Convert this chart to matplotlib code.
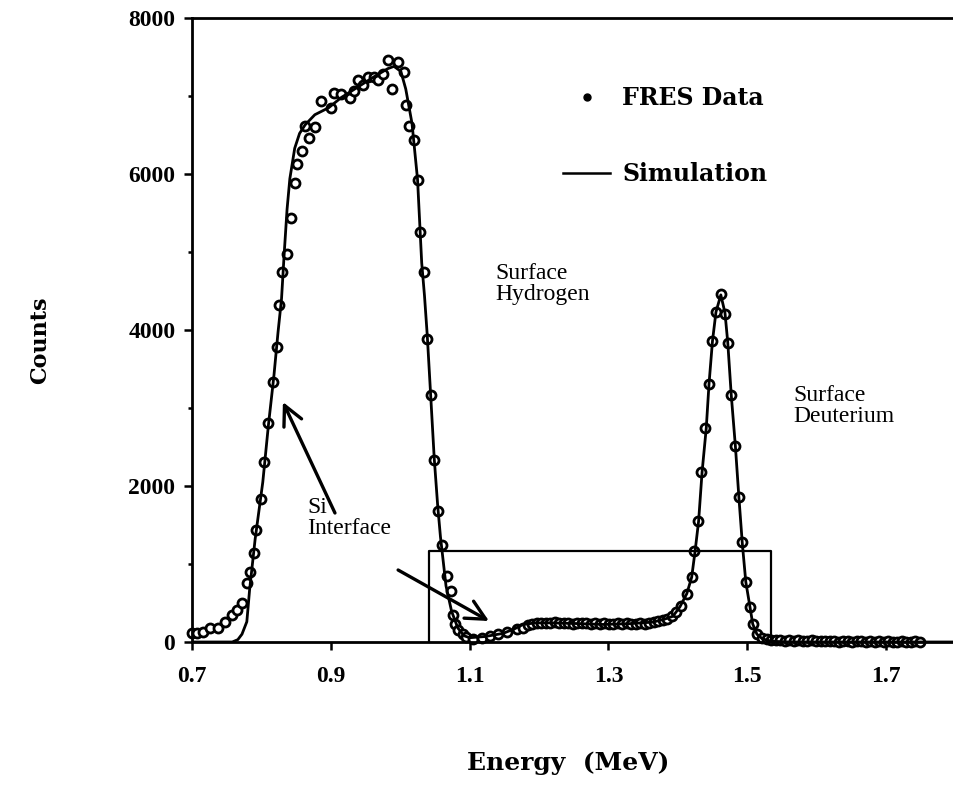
import matplotlib
matplotlib.use('Agg')
import matplotlib.pyplot as plt
from matplotlib.lines import Line2D

# FRES measured spectrum (energy in MeV, counts)
data_energy = [0.700, 0.707, 0.716, 0.726, 0.737, 0.748, 0.758, 0.765, 0.772, 0.779,
               0.783, 0.789, 0.792, 0.799, 0.804, 0.810, 0.816, 0.823, 0.826, 0.829,
               0.837, 0.843, 0.848, 0.852, 0.859, 0.863, 0.869, 0.877, 0.886, 0.901,
               0.905, 0.915, 0.927, 0.933, 0.939, 0.946, 0.954, 0.962, 0.968, 0.975,
               0.982, 0.988, 0.997, 1.005, 1.009, 1.012, 1.020, 1.025, 1.029, 1.034,
               1.039, 1.045, 1.049, 1.054, 1.060, 1.067, 1.073, 1.076, 1.079, 1.083,
               1.090, 1.095, 1.105, 1.118, 1.129, 1.141, 1.154, 1.168, 1.177,
               1.184, 1.190, 1.197, 1.203, 1.210, 1.216, 1.223, 1.229, 1.236, 1.242,
               1.249, 1.255, 1.262, 1.268, 1.275, 1.281, 1.288, 1.294, 1.301, 1.307,
               1.314, 1.320, 1.327, 1.333, 1.340, 1.346, 1.353, 1.359, 1.366, 1.372,
               1.379, 1.385, 1.392, 1.398,
               1.404, 1.413, 1.420, 1.424, 1.429, 1.434, 1.439, 1.445, 1.450, 1.455,
               1.462, 1.468, 1.472, 1.477, 1.483, 1.488, 1.493, 1.498, 1.504, 1.508,
               1.514, 1.521,
               1.528, 1.534, 1.541, 1.547, 1.554, 1.560, 1.567, 1.573, 1.580, 1.586,
               1.593, 1.599, 1.606, 1.612, 1.619, 1.625, 1.632, 1.638, 1.645, 1.651,
               1.658, 1.664, 1.671, 1.677, 1.684, 1.690, 1.697, 1.703, 1.710, 1.716,
               1.723, 1.729, 1.736, 1.742, 1.749]
data_counts = [115, 115, 130, 180, 180, 260, 350, 410, 500, 760,
               900, 1140, 1435, 1835, 2310, 2810, 3330, 3780, 4320, 4745,
               4975, 5440, 5890, 6130, 6300, 6620, 6460, 6600, 6940, 6850,
               7040, 7020, 6980, 7070, 7200, 7140, 7240, 7240, 7200, 7280,
               7460, 7090, 7430, 7310, 6890, 6620, 6440, 5920, 5260, 4740,
               3890, 3170, 2330, 1680, 1250, 850, 660, 350, 230, 155,
               100, 65, 40, 45, 75, 100, 130, 170, 185,
               215, 235, 240, 250, 245, 240, 255, 245, 240, 250,
               235, 245, 250, 240, 235, 245, 230, 240, 235, 225,
               240, 230, 245, 235, 230, 240, 235, 250, 260, 270,
               285, 300, 330, 380,
               460, 615, 833, 1170, 1551, 2179, 2743, 3307, 3859, 4231,
               4461, 4205, 3833, 3167, 2513, 1859, 1282, 769, 449, 231,
               103, 51,
               35, 25, 20, 25, 15, 20, 15, 20, 10, 15,
               20, 10, 15, 10, 15, 10, 5, 15, 10, 5,
               10, 15, 5, 10, 5, 10, 5, 10, 5, 5,
               10, 5, 5, 10, 5]

# simulated spectrum
sim_energy = [0.700, 0.758, 0.766, 0.772, 0.779, 0.783, 0.791, 0.802, 0.810, 0.818,
              0.824, 0.829, 0.833, 0.837, 0.841, 0.848, 0.855, 0.863, 0.877, 0.897,
              0.915, 0.939, 0.962, 0.982, 0.991, 1.001, 1.008, 1.017, 1.025, 1.031,
              1.035, 1.039, 1.044, 1.049, 1.054, 1.058, 1.066, 1.074, 1.083, 1.092,
              1.100, 1.122, 1.148, 1.165, 1.177, 1.195, 1.220, 1.260, 1.292, 1.330,
              1.364, 1.380, 1.393, 1.403, 1.413, 1.420, 1.425, 1.430, 1.435, 1.441,
              1.445, 1.450, 1.455, 1.462, 1.468, 1.472, 1.477, 1.483, 1.488, 1.493,
              1.498, 1.504, 1.508, 1.514, 1.522, 1.535, 1.560, 1.798]
sim_counts = [0, 0, 30, 100, 260, 670, 1320, 2050, 2770, 3410,
              3975, 4400, 5000, 5550, 5940, 6330, 6520, 6630, 6760, 6850,
              6980, 7115, 7245, 7350, 7380, 7315, 7090, 6650, 5930, 4860,
              4440, 3930, 3150, 2360, 1750, 1350, 720, 395, 180, 80,
              55, 70, 110, 170, 225, 245, 245, 235, 225, 235,
              255, 290, 330, 450, 620, 830, 1170, 1550, 2180, 2740,
              3310, 3860, 4230, 4450, 4220, 3840, 3170, 2510, 1860, 1260,
              770, 450, 230, 100, 40, 10, 0, 0]

# window drawn around the hydrogen / deuterium region
box_energy = [1.041, 1.534]
box_height = 1170

x_ticks = [0.7, 0.9, 1.1, 1.3, 1.5, 1.7]
x_labels = ['0.7', '0.9', '1.1', '1.3', '1.5', '1.7']
y_ticks = [0, 2000, 4000, 6000, 8000]

W, H = 954, 788
fig = plt.figure(figsize=(W / 100, H / 100), dpi=100)
ax = fig.add_axes([192 / W, 1 - 642 / H, 1 - 192 / W, (642 - 18) / H])

ax.plot(data_energy, data_counts, 'o', ms=6.5, mfc='white', mec='black', mew=2.0,
        clip_on=False, zorder=2)
ax.plot(sim_energy, sim_counts, color='black', lw=2.0, zorder=3)

ax.plot([box_energy[0], box_energy[0], box_energy[1], box_energy[1]],
        [0, box_height, box_height, 0], color='black', lw=1.6)

ax.set_xlim(0.7, 1.798)
ax.set_ylim(0, 8000)
ax.spines['right'].set_visible(False)
for s in ['left', 'bottom', 'top']:
    ax.spines[s].set_linewidth(2)

tick_font = {'family': 'Liberation Serif', 'weight': 'bold', 'size': 17}
ax.set_xticks(x_ticks)
ax.set_xticklabels(x_labels, fontdict=tick_font)
ax.set_yticks(y_ticks)
ax.set_yticklabels([str(v) for v in y_ticks], fontdict=tick_font)
ax.set_yticks([1000, 3000, 5000, 7000], minor=True)
ax.tick_params(axis='x', direction='out', length=6, width=1.8, pad=11)
ax.tick_params(axis='y', which='major', direction='out', length=6, width=1.8, pad=6)
ax.tick_params(axis='y', which='minor', direction='out', length=3, width=1.8)

label_font = dict(family='DejaVu Serif', weight='bold')
fig.text(40 / W, 1 - 340 / H, 'Counts', rotation=90, ha='center', va='center',
         fontsize=16, **label_font)
fig.text(568 / W, 1 - 770 / H, 'Energy  (MeV)', ha='center', va='baseline',
         fontsize=18, **label_font)

# annotations
note_font = dict(family='Liberation Serif', fontsize=17, linespacing=1.0)
ax.text(1.137, 4860, 'Surface\nHydrogen', ha='left', va='top', **note_font)
ax.text(1.566, 3295, 'Surface\nDeuterium', ha='left', va='top', **note_font)
ax.text(0.866, 1860, 'Si\nInterface', ha='left', va='top', **note_font)

arrow = dict(arrowstyle='->, head_length=0.7, head_width=0.35', lw=2.4,
             color='black', mutation_scale=20, shrinkA=0, shrinkB=0)
ax.annotate('', xy=(0.831, 3077), xytext=(0.906, 1654), arrowprops=arrow)
ax.annotate('', xy=(1.128, 269), xytext=(0.997, 923), arrowprops=arrow)

handles = [Line2D([], [], marker='o', color='black', ls='none', ms=5),
           Line2D([], [], color='black', lw=1.8)]
ax.legend(handles, ['FRES Data', 'Simulation'], loc='upper left',
          bbox_to_anchor=(563 / W, 1 - 86 / H), bbox_transform=fig.transFigure,
          frameon=False, borderpad=0, borderaxespad=0, handlelength=2.0,
          handletextpad=0.5, labelspacing=2.2,
          prop={'family': 'DejaVu Serif', 'weight': 'bold', 'size': 17})

fig.savefig('out.png', dpi=100)
